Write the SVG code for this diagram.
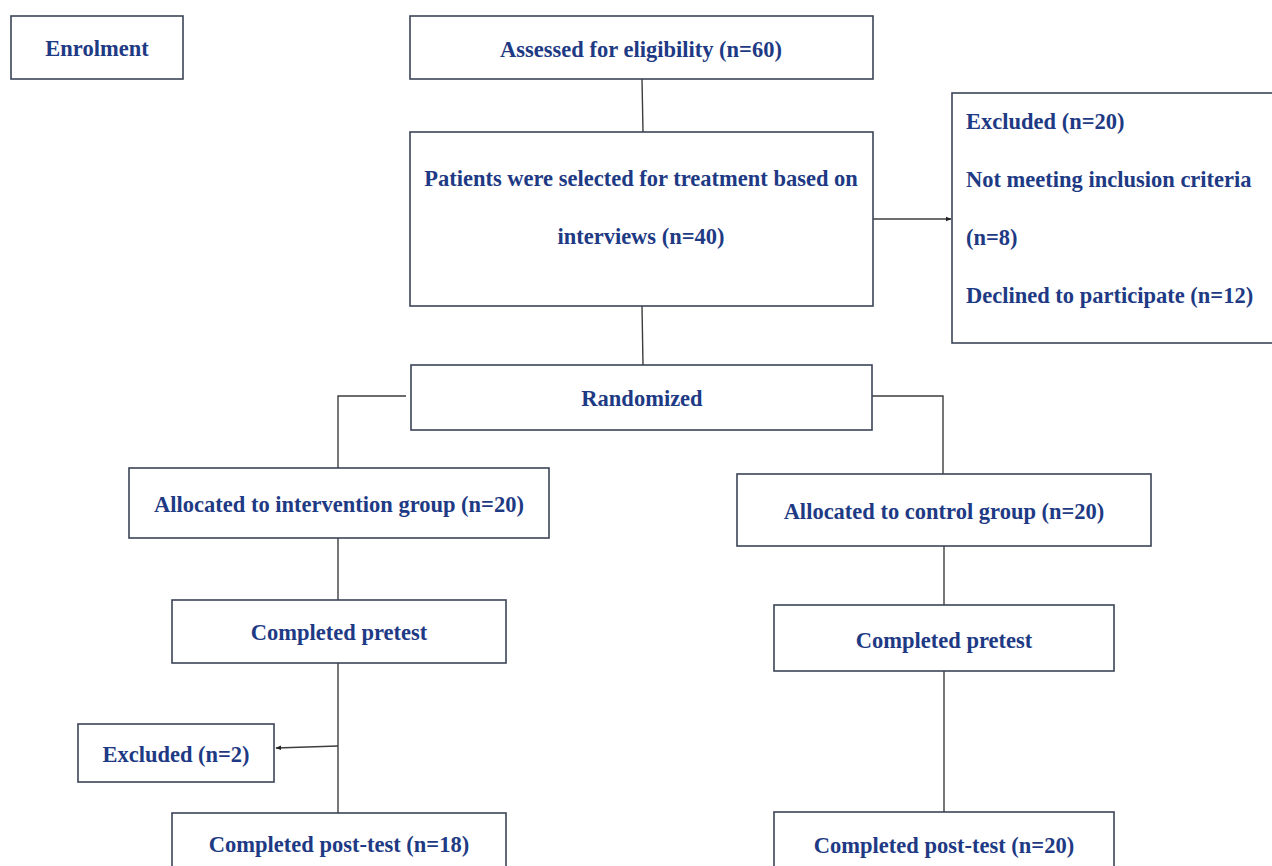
<svg xmlns="http://www.w3.org/2000/svg" width="1272" height="866" viewBox="0 0 1272 866">
<style>
.box{fill:#fff;stroke:#3b4457;stroke-width:1.6}
.t{font-family:"Liberation Serif","Times New Roman",serif;font-weight:bold;font-size:22.5px;fill:#1e3a84}
.c{text-anchor:middle}
.ln{fill:none;stroke:#3d3d3d;stroke-width:1.4}
</style>
<defs>
<marker id="ah" viewBox="0 0 10 10" refX="9" refY="5" markerWidth="6" markerHeight="6" orient="auto-start-reverse" markerUnits="userSpaceOnUse">
<path d="M0,1 L10,5 L0,9 z" fill="#222"/>
</marker>
</defs>
<rect width="1272" height="866" fill="#fff"/>
<g id="connectors">
<line class="ln" x1="642" y1="79" x2="643" y2="132"/>
<line class="ln" x1="873" y1="219" x2="951" y2="219" marker-end="url(#ah)"/>
<line class="ln" x1="642" y1="306" x2="643" y2="365"/>
<polyline class="ln" points="406,396 338,396 338,468"/>
<polyline class="ln" points="872,396 943,396 943,474"/>
<line class="ln" x1="338" y1="538" x2="338" y2="600"/>
<line class="ln" x1="944" y1="546" x2="944" y2="605"/>
<line class="ln" x1="338" y1="663" x2="338" y2="813"/>
<line class="ln" x1="338" y1="746" x2="276" y2="748" marker-end="url(#ah)"/>
<line class="ln" x1="944" y1="671" x2="944" y2="812"/>
</g>
<g id="enrolment"><rect class="box" x="11" y="16" width="172" height="63"/><text class="t c" x="97" y="56">Enrolment</text></g>
<g id="assessed"><rect class="box" x="410" y="16" width="463" height="63"/><text class="t c" x="641" y="57">Assessed for eligibility (n=60)</text></g>
<g id="selected"><rect class="box" x="410" y="132" width="463" height="174"/><text class="t c" x="641" y="186">Patients were selected for treatment based on</text><text class="t c" x="641" y="244">interviews (n=40)</text></g>
<g id="excluded20"><rect class="box" x="952" y="93" width="330" height="250"/>
<text class="t" x="966" y="129">Excluded (n=20)</text>
<text class="t" x="966" y="187">Not meeting inclusion criteria</text>
<text class="t" x="966" y="245">(n=8)</text>
<text class="t" x="966" y="303">Declined to participate (n=12)</text></g>
<g id="randomized"><rect class="box" x="411" y="365" width="461" height="65"/><text class="t c" x="642" y="406">Randomized</text></g>
<g id="alloc-int"><rect class="box" x="129" y="468" width="420" height="70"/><text class="t c" x="339" y="512">Allocated to intervention group (n=20)</text></g>
<g id="alloc-ctl"><rect class="box" x="737" y="474" width="414" height="72"/><text class="t c" x="944" y="519">Allocated to control group (n=20)</text></g>
<g id="pre-int"><rect class="box" x="172" y="600" width="334" height="63"/><text class="t c" x="339" y="640">Completed pretest</text></g>
<g id="pre-ctl"><rect class="box" x="774" y="605" width="340" height="66"/><text class="t c" x="944" y="648">Completed pretest</text></g>
<g id="excluded2"><rect class="box" x="78" y="724" width="196" height="58"/><text class="t c" x="176" y="762">Excluded (n=2)</text></g>
<g id="post-int"><rect class="box" x="172" y="813" width="334" height="70"/><text class="t c" x="339" y="852">Completed post-test (n=18)</text></g>
<g id="post-ctl"><rect class="box" x="774" y="812" width="340" height="70"/><text class="t c" x="944" y="853">Completed post-test (n=20)</text></g>
</svg>
